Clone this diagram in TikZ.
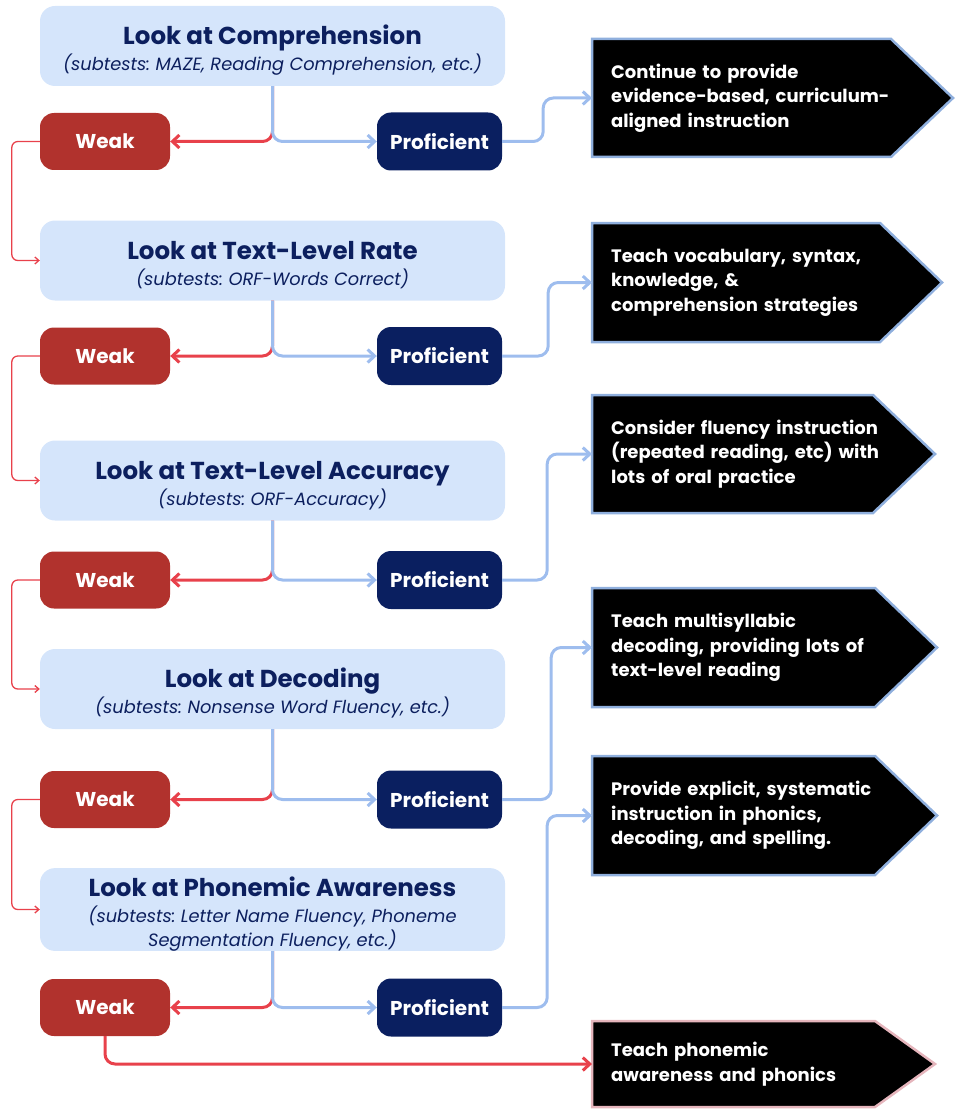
\documentclass[tikz,border=0pt]{standalone}
\usepackage{fontspec}
\setmainfont{Poppins}
\frenchspacing
\usetikzlibrary{arrows.meta,backgrounds}
\definecolor{lookfill}{HTML}{D5E5FB}
\definecolor{looktext}{HTML}{0C1F5E}
\definecolor{weakfill}{HTML}{B1322D}
\definecolor{proffill}{HTML}{0A1F60}
\definecolor{redline}{HTML}{E8414B}
\definecolor{blueline}{HTML}{9EBDEE}
\definecolor{actline}{HTML}{8FAFDD}
\definecolor{pinkline}{HTML}{E5B5BC}
\newcommand{\ttl}[1]{{\fontsize{24.5}{24}\selectfont\bfseries\upshape\rule{0pt}{28pt}#1}\\[2pt]}
\tikzset{
  look/.style={fill=lookfill, rounded corners=15pt, minimum width=465pt, minimum height=80pt,
    align=center, text=looktext, inner sep=0pt, font=\fontsize{17.8}{24}\selectfont\itshape},
  weak/.style={fill=weakfill, rounded corners=14pt, minimum width=130pt, minimum height=57pt,
    text=white, font=\fontsize{20}{23}\selectfont\bfseries},
  prof/.style={weak, fill=proffill, minimum width=125pt, minimum height=58pt},
  act/.style={text=white, align=left, anchor=west, text width=300pt, inner xsep=19pt,
    inner ysep=0pt, font=\fontsize{18}{24.5}\selectfont\bfseries},
  actbox/.style={fill=black, draw=actline, line width=2.5pt},
  redarrow/.style={draw=redline, line width=3pt, rounded corners=10pt,
    -{Straight Barb[length=7pt,width=13pt]}},
  bluearrow/.style={redarrow, draw=blueline},
  backarrow/.style={draw=redline, line width=1.3pt, rounded corners=6pt,
    -{Straight Barb[length=4pt,width=7pt]}},
}
\begin{document}
\begin{tikzpicture}[x=1pt, y=-1pt]
  \useasboundingbox (0,0) rectangle (962,1110);

  \def\Cx{272.5} % look box centre
  \def\Wx{105  } % weak centre
  \def\Px{439.5} % proficient centre
  \def\Ax{592  } % left edge of the action boxes

  % Look at ... boxes
  \node[look] (q1) at (\Cx,  46  ) {\ttl{Look at Comprehension}(subtests: MAZE, Reading Comprehension, etc.)};
  \node[look] (q2) at (\Cx, 260.5) {\ttl{Look at Text-Level Rate}(subtests: ORF-Words Correct)};
  \node[look] (q3) at (\Cx, 480.5) {\ttl{Look at Text-Level Accuracy}(subtests: ORF-Accuracy)};
  \node[look] (q4) at (\Cx, 689  ) {\ttl{Look at Decoding}(subtests: Nonsense Word Fluency, etc.)};
  \node[look, minimum height=81pt] (q5) at (\Cx, 909.5) {\ttl{Look at Phonemic Awareness}(subtests: Letter Name Fluency, Phoneme\\Segmentation Fluency, etc.)};

  % Weak / Proficient
  \node[weak] (w1) at (\Wx, 141.5) {Weak};
  \node[prof] (p1) at (\Px, 141.5) {Proficient};
  \node[weak] (w2) at (\Wx, 356  ) {Weak};
  \node[prof] (p2) at (\Px, 356  ) {Proficient};
  \node[weak] (w3) at (\Wx, 580  ) {Weak};
  \node[prof] (p3) at (\Px, 580  ) {Proficient};
  \node[weak] (w4) at (\Wx, 799.5) {Weak};
  \node[prof] (p4) at (\Px, 799.5) {Proficient};
  \node[weak] (w5) at (\Wx, 1007.5) {Weak};
  \node[prof] (p5) at (\Px, 1007.5) {Proficient};

  % Actions
  \node[act] (a1) at (\Ax,   98  ) {Continue to provide\\evidence-based, curriculum-\\aligned instruction};
  \node[act] (a2) at (\Ax,  282.5) {Teach vocabulary, syntax,\\knowledge, \&\\comprehension strategies};
  \node[act] (a3) at (\Ax,  454  ) {Consider fluency instruction\\(repeated reading, etc) with\\lots of oral practice};
  \node[act] (a4) at (\Ax,  647.5) {Teach multisyllabic\\decoding, providing lots of\\text-level reading};
  \node[act] (a5) at (\Ax,  815.5) {Provide explicit, systematic\\instruction in phonics,\\decoding, and spelling.};
  \node[act] (a6) at (\Ax, 1064  ) {Teach phonemic\\awareness and phonics};

  \begin{scope}[on background layer]
    \foreach \n/\b/\t/\h in {a1/299/62/59, a2/288/62/59.5, a3/281/62/59, a4/283/62/59.5, a5/283/62/59.5}
      \filldraw[actbox] (\n.west) ++(0,-\h) -- ++(\b,0) -- ++(\t,\h) -- ++(-\t,\h) -- ++(-\b,0) -- cycle;
    \filldraw[actbox, draw=pinkline] (a6.west) ++(0,-43) -- ++(283,0) -- ++(60,43) -- ++(-60,43) -- ++(-283,0) -- cycle;
  \end{scope}

  % Connectors
  \foreach \i/\d in {1/41, 2/46, 3/45, 4/49, 5/45} {
    \draw[redarrow]  (q\i.south) |- (w\i.east);
    \draw[bluearrow] (q\i.south) |- (p\i.west);
    \draw[bluearrow] (p\i.east) -- ++(\d,0) |- (a\i.west);
  }
  \foreach \i/\j in {1/2, 2/3, 3/4, 4/5}
    \draw[backarrow] (w\i.west) -- ++(-28,0) |- (q\j.west);
  \draw[redarrow] (w5.south) |- (a6.west);
\end{tikzpicture}
\end{document}
